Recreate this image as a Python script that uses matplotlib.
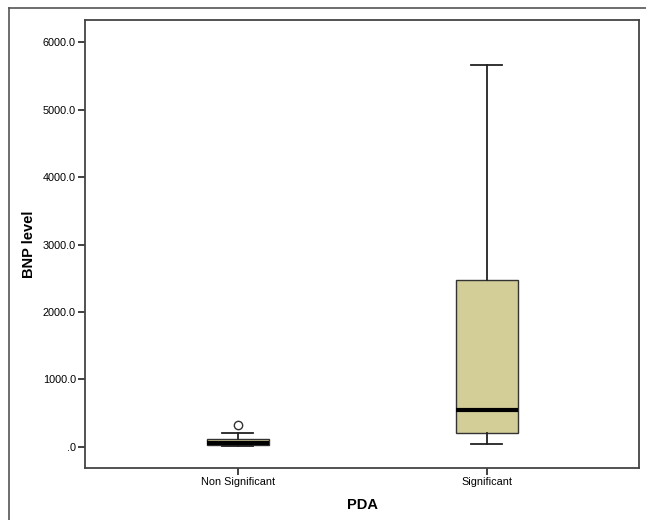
import numpy as np
import matplotlib.pyplot as plt
from matplotlib.lines import Line2D

plt.rcParams['font.family'] = ['Liberation Sans', 'DejaVu Sans']

groups = ['Non Significant', 'Significant']
whisker_low = [10, 45]
q1 = [28, 200]
medians = [55, 545]
q3 = [120, 2470]
whisker_high = [205, 5670]
outliers = [[330], []]

yticks = [0, 1000, 2000, 3000, 4000, 5000, 6000]
ytick_labels = ['.0', '1000.0', '2000.0', '3000.0', '4000.0', '5000.0', '6000.0']

stats = []
for i in range(len(groups)):
    stats.append({'label': groups[i], 'whislo': whisker_low[i], 'q1': q1[i],
                  'med': medians[i], 'q3': q3[i], 'whishi': whisker_high[i],
                  'fliers': outliers[i]})

fig = plt.figure(figsize=(6.46, 5.2), dpi=100)
ax = fig.add_axes([0.1316, 0.0994, 0.858, 0.862])

ax.bxp(stats, positions=[1, 2], widths=0.25, patch_artist=True,
       boxprops=dict(facecolor='#d3cd98', edgecolor='#333333', linewidth=1.0),
       medianprops=dict(color='black', linewidth=3),
       whiskerprops=dict(color='#222222', linewidth=1.3),
       capprops=dict(color='#222222', linewidth=1.3),
       capwidths=0.125,
       flierprops=dict(marker='o', markerfacecolor='white', markeredgecolor='#333333',
                       markersize=6, markeredgewidth=1.0))

ax.set_xlim(0.387, 2.613)
ax.set_ylim(-320, 6331)
ax.set_yticks(yticks)
ax.set_yticklabels(ytick_labels)
ax.set_xticks([1, 2])
ax.set_xticklabels(groups)
ax.tick_params(axis='both', labelsize=7.8, length=5, width=1.3, color='#333333',
               direction='out', pad=1.5)
for s in ax.spines.values():
    s.set_color('#444444')
    s.set_linewidth(1.3)

ax.set_xlabel('PDA', fontsize=10.5, fontweight='bold', labelpad=8)
ax.set_ylabel('BNP level', fontsize=10.5, fontweight='bold', labelpad=5)

# outer frame (partly cut off in the original)
fig.add_artist(Line2D([0.0139, 1.0], [0.9846, 0.9846], color='#555555', lw=1.2))
fig.add_artist(Line2D([0.0139, 0.0139], [0.0, 0.9846], color='#555555', lw=1.2))

plt.savefig('out.png', dpi=100)
